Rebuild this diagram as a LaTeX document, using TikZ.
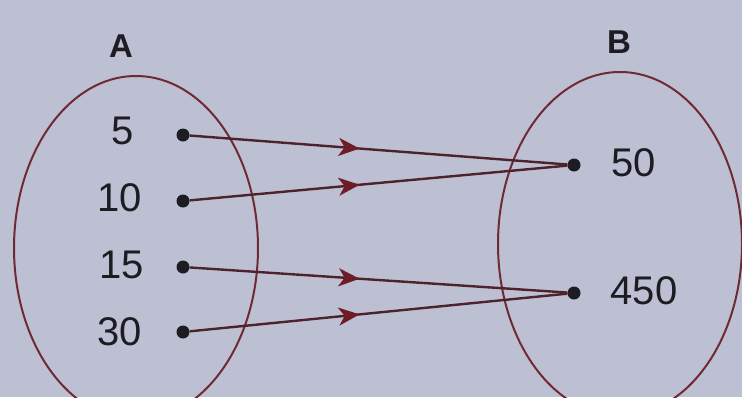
\documentclass[tikz,border=0pt]{standalone}
\usepackage{fontspec}
\setmainfont{Liberation Sans}
\usetikzlibrary{shapes.geometric,arrows.meta,decorations.markings}
\definecolor{bgcol}{RGB}{188,192,210}
\definecolor{ringcol}{RGB}{112,42,52}
\definecolor{conncol}{RGB}{78,34,44}
\definecolor{tipcol}{RGB}{112,28,38}
\definecolor{inkcol}{RGB}{28,28,34}
\tikzset{
  setring/.style={draw=ringcol, line width=2pt, ellipse, inner sep=0pt, minimum width=244pt, minimum height=344pt},
  pt/.style={circle, fill=inkcol, inner sep=0pt, minimum size=13pt},
  num/.style={text=inkcol, font=\fontsize{40}{42}\selectfont, inner sep=0pt},
  setname/.style={text=inkcol, font=\fontsize{33}{35}\selectfont\bfseries, inner sep=0pt},
  conn/.style={draw=conncol, line width=2.4pt, postaction={decorate},
    decoration={markings, mark=at position 0.45 with {\arrow[tipcol]{Stealth[length=21pt,width=18pt,inset=6pt]}}}}
}
\begin{document}
\begin{tikzpicture}[x=1pt,y=-1pt]
\fill[bgcol] (0,0) rectangle (742,397);
\useasboundingbox (0,0) rectangle (742,397);
\clip (0,0) rectangle (742,397);
\node[setring] (SA) at (136,248) {};
\node[setring] (SB) at (620,244) {};
\node[setname] (lA) at (121,46) {A};
\node[setname] (lB) at (619,42) {B};
\node[pt] (a5) at (183,135) {};
\node[pt] (a10) at (183,201) {};
\node[pt] (a15) at (183,267) {};
\node[pt] (a30) at (183,332) {};
\node[pt] (b50) at (574,165) {};
\node[pt] (b450) at (574,293) {};
\node[num] (t5) at (123,131) {5};
\node[num] (t10) at (120,198) {10};
\node[num] (t15) at (122,265) {15};
\node[num] (t30) at (120,332) {30};
\node[num] (t50) at (634,163) {50};
\node[num] (t450) at (644,291) {450};
\draw[conn] (a5) -- (b50);
\draw[conn] (a10) -- (b50);
\draw[conn] (a15) -- (b450);
\draw[conn] (a30) -- (b450);
\end{tikzpicture}
\end{document}
